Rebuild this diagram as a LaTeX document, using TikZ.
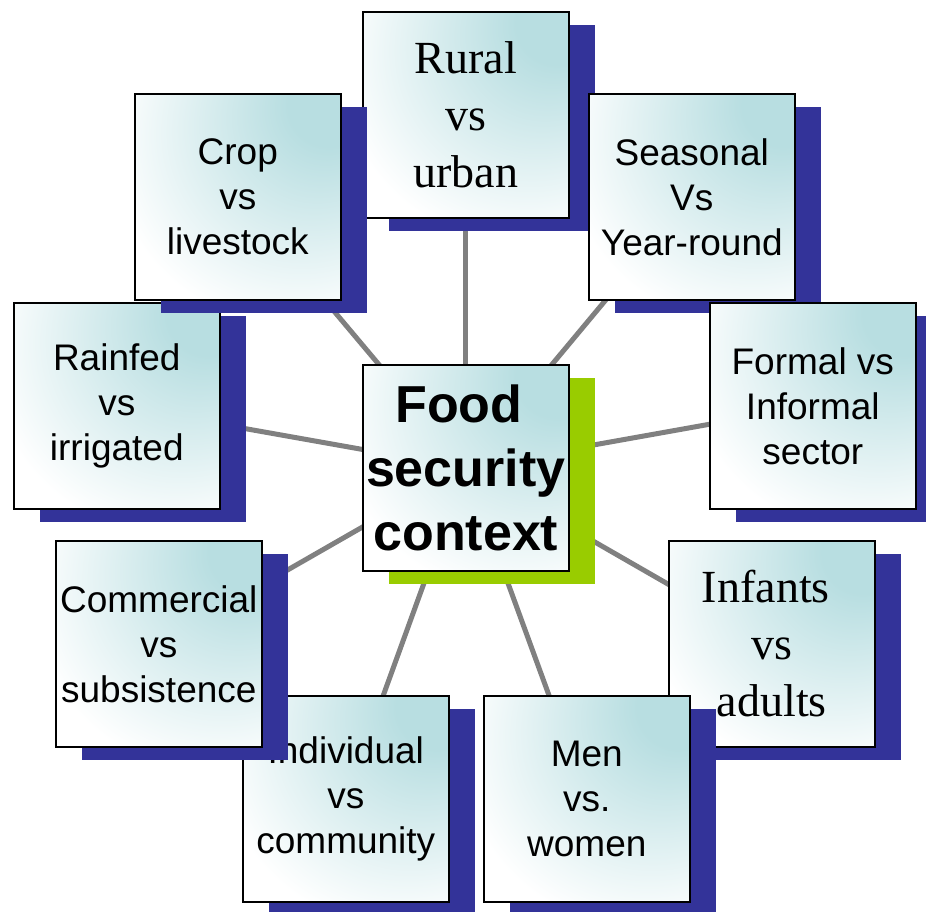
\documentclass[tikz,border=0pt]{standalone}
\usepackage{fontspec}
\setmainfont{Liberation Sans}
\newfontfamily\timesfont{Liberation Serif}
\usetikzlibrary{shadows,backgrounds}
\definecolor{boxteal}{HTML}{B8DEE1}
\definecolor{shadowblue}{HTML}{333399}
\definecolor{shadowgreen}{HTML}{99CC00}
\definecolor{linkgray}{HTML}{808080}
\pgfdeclareradialshading{cornerteal}{\pgfpoint{25bp}{25bp}}{color(0bp)=(boxteal); color(10bp)=(boxteal); color(44bp)=(white); color(90bp)=(white)}
\begin{document}
\begin{tikzpicture}[x=1pt,y=-1pt,
  cardbase/.style={draw=black, line width=1.6pt, shade, shading=cornerteal,
    minimum width=206pt, minimum height=206pt, inner sep=0pt, align=center,
    anchor=north west},
  card/.style={cardbase, font=\fontsize{37}{45}\selectfont,
    general shadow={fill=shadowblue, shadow xshift=26pt, shadow yshift=-13pt}},
  serifcard/.style={cardbase, font=\timesfont\fontsize{46}{57}\selectfont,
    general shadow={fill=shadowblue, shadow xshift=26pt, shadow yshift=-13pt}},
  hub/.style={cardbase, font=\bfseries\fontsize{52}{64}\selectfont,
    general shadow={fill=shadowgreen, shadow xshift=26pt, shadow yshift=-13pt}},
  link/.style={draw=linkgray, line width=5pt}]
\useasboundingbox (0,0) rectangle (926,912);
\node[serifcard] (rural) at (362,11) {Rural\\vs\\urban};
\node[card] (seasonal) at (588,93) {Seasonal\\Vs\\Year-round};
\node[card] (formal) at (709,302) {Formal vs\\Informal\\sector};
\node[serifcard] (infants) at (668,540) {Infants\hspace*{12pt}\\vs\\adults};
\node[card] (men) at (483,695) {Men\\vs.\\women};
\node[card] (individual) at (242,695) {Individual\\vs\\community};
\node[card] (commercial) at (55,540) {Commercial\\vs\\subsistence};
\node[card] (rainfed) at (13,302) {Rainfed\\vs\\irrigated};
\node[card] (crop) at (134,93) {Crop\\vs\\livestock};
\node[hub] (food) at (362,364) {Food\hspace*{14pt}\\security\\context};
\begin{pgfonlayer}{background}
\foreach \n in {rural,seasonal,formal,infants,men,individual,commercial,rainfed,crop}
  \draw[link] (food.center) -- (\n.center);
\end{pgfonlayer}
\end{tikzpicture}
\end{document}
